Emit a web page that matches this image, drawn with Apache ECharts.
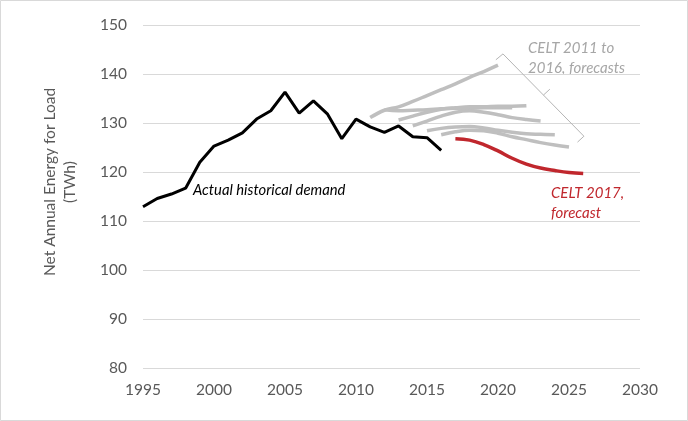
<!DOCTYPE html>
<html><head><meta charset="utf-8">
<script src="https://cdn.jsdelivr.net/npm/echarts@6/dist/echarts.min.js"></script>
<style>html,body{margin:0;padding:0;background:#fff}#c{width:688px;height:421px}</style>
</head><body><div id="c"></div>
<script>
// Historical demand 1995-2016 (TWh)
const histStart = 1995;
const histValues = [112.9,114.6,115.5,116.7,122.0,125.3,126.5,128.0,130.8,132.5,136.3,132.0,134.5,131.8,126.8,130.8,129.2,128.1,129.4,127.2,127.0,124.4];
// CELT forecasts (10-year horizons)
const celtStarts = [2011,2012,2013,2014,2015,2016];
const celt2011 = [131.1,132.6,133.3,134.4,135.6,136.8,138.0,139.3,140.5,141.8];
const celt2012 = [132.7,132.5,132.6,132.7,132.9,133.0,133.0,133.1,133.1,133.1];
const celt2013 = [130.6,131.4,132.2,132.8,133.1,133.3,133.3,133.4,133.4,133.5];
const celt2014 = [129.4,130.4,131.4,132.2,132.5,132.2,131.7,131.1,130.7,130.4];
const celt2015 = [128.4,128.9,129.2,129.3,129.0,128.5,128.1,127.8,127.7,127.6];
const celt2016 = [127.6,128.2,128.5,128.4,127.9,127.2,126.6,126.0,125.5,125.1];
const celt2017Start = 2017;
const celt2017 = [126.8,126.5,125.6,124.3,122.8,121.6,120.8,120.3,119.9,119.7];
// Bracket annotation (data coordinates)
const bracketX = [2019.85,2020.35,2026.05,2025.6];
const bracketY = [142.9,144.1,127.3,126.1];
const tickX = [2023.2,2023.65];
const tickY = [135.7,136.9];

const FONT = 'Lato, "Open Sans", sans-serif';
const pairs = (start, vals) => vals.map((v,i)=>[start+i, v]);
const grayList = [celt2011,celt2012,celt2013,celt2014,celt2015,celt2016];

const series = [];
grayList.forEach((vals,k)=>{
  series.push({type:'line', data:pairs(celtStarts[k], vals), smooth:0.4, showSymbol:false,
    lineStyle:{color:'#bfbfbf', width:3.5}, silent:true, z:2});
});
series.push({type:'line', data:pairs(histStart, histValues), showSymbol:false,
  lineStyle:{color:'#000', width:3}, silent:true, z:3});
series.push({type:'line', data:pairs(celt2017Start, celt2017), smooth:0.4, showSymbol:false,
  lineStyle:{color:'#c0272d', width:3.5}, silent:true, z:3});
series.push({type:'line', data:bracketX.map((x,i)=>[x,bracketY[i]]), showSymbol:false,
  lineStyle:{color:'#b5b5b5', width:1}, silent:true, z:1});
series.push({type:'line', data:tickX.map((x,i)=>[x,tickY[i]]), showSymbol:false,
  lineStyle:{color:'#b5b5b5', width:1}, silent:true, z:1});

const chart = echarts.init(document.getElementById('c'), null, {renderer:'canvas'});
chart.setOption({
  animation:false,
  backgroundColor:'#fff',
  grid:{left:143, right:48, top:25, bottom:53, containLabel:false},
  xAxis:{type:'value', min:1995, max:2030, interval:5,
    axisLine:{show:false}, axisTick:{show:false}, splitLine:{show:false},
    axisLabel:{color:'#595959', fontSize:15.5, fontFamily:FONT, margin:14, formatter:v=>String(v)}},
  yAxis:{type:'value', min:80, max:150, interval:10,
    axisLine:{show:false}, axisTick:{show:false},
    splitLine:{lineStyle:{color:'#d9d9d9', width:1}},
    axisLabel:{color:'#595959', fontSize:15.5, fontFamily:FONT, margin:16}},
  series:series,
  graphic:[
    {type:'rect', shape:{x:0.5,y:0.5,width:687,height:420}, style:{fill:'none', stroke:'#d9d9d9', lineWidth:1}},
    {type:'text', x:60, y:182, rotation:Math.PI/2, style:{text:'Net Annual Energy for Load\n(TWh)', fill:'#595959', fontSize:15.5, fontFamily:FONT, lineHeight:20, textAlign:'center', textVerticalAlign:'middle'}},
    {type:'text', left:193, top:183, style:{text:'Actual historical demand', fill:'#000', fontSize:14.8, fontStyle:'italic', fontFamily:FONT}},
    {type:'text', left:528, top:38, style:{text:'CELT 2011 to\n2016, forecasts', fill:'#a6a6a6', fontSize:15, fontStyle:'italic', fontFamily:FONT, lineHeight:20}},
    {type:'text', left:551, top:183, style:{text:'CELT 2017,\nforecast', fill:'#c0272d', fontSize:15, fontStyle:'italic', fontFamily:FONT, lineHeight:20}}
  ]
});
</script></body></html>
